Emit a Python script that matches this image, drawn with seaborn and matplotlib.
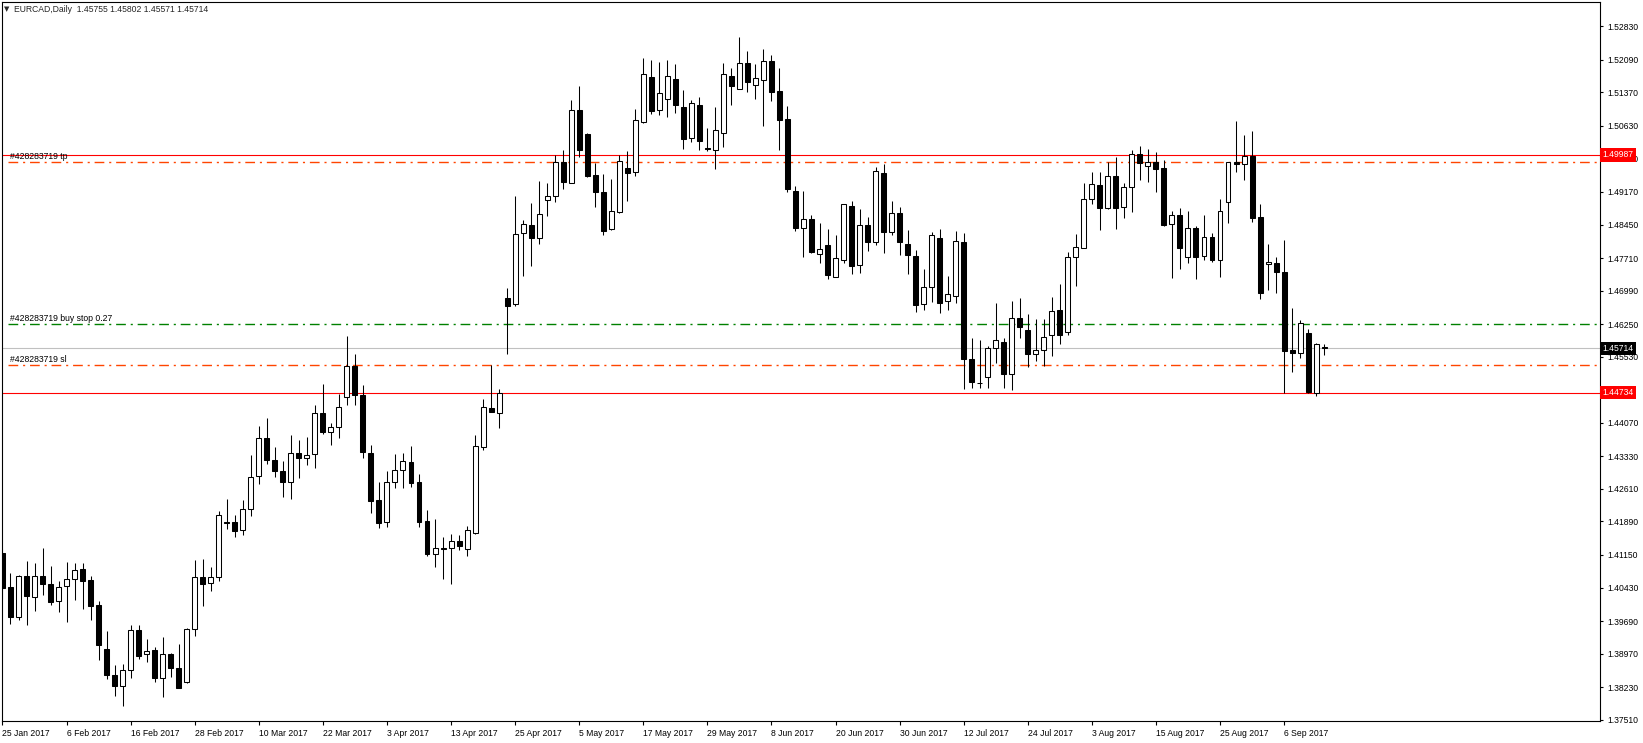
import numpy as np
import pandas as pd
import matplotlib
matplotlib.use("Agg")
import matplotlib.pyplot as plt
import matplotlib.transforms as mtransforms
import seaborn as sns

# EURCAD daily candles, 25 Jan 2017 -> 13 Sep 2017
opens = [1.41202, 1.40436, 1.39788, 1.40679, 1.40230, 1.40679, 1.40502, 1.40141, 1.40458, 1.40613,
         1.40833, 1.40591, 1.40038, 1.39066, 1.38492, 1.38264, 1.38603, 1.39486, 1.38956, 1.39044,
         1.38426, 1.38956, 1.38647, 1.38352, 1.39508, 1.40656, 1.40524, 1.40656, 1.41886, 1.41871,
         1.41694, 1.42158, 1.42887, 1.43726, 1.43241, 1.42998, 1.42769, 1.43395, 1.43285, 1.43373,
         1.44279, 1.43874, 1.43969, 1.44632, 1.45324, 1.44684, 1.43395, 1.42365, 1.41886, 1.42755,
         1.43020, 1.43197, 1.42755, 1.41901, 1.41164, 1.41297, 1.41297, 1.41451, 1.41275, 1.41643,
         1.43543, 1.44389, 1.44279, 1.46818, 1.46686, 1.48254, 1.48438, 1.48144, 1.48983, 1.49072,
         1.49823, 1.49374, 1.50971, 1.50448, 1.49543, 1.49160, 1.48343, 1.48733, 1.49697, 1.49602,
         1.50707, 1.51701, 1.50972, 1.51215, 1.51656, 1.51038, 1.50353, 1.51082, 1.50147, 1.50103,
         1.50464, 1.51723, 1.51435, 1.52010, 1.51524, 1.51649, 1.52054, 1.51391, 1.50773, 1.49182,
         1.48365, 1.48564, 1.47791, 1.47989, 1.47283, 1.47658, 1.48851, 1.47548, 1.48431, 1.48056,
         1.49580, 1.48276, 1.48696, 1.48012, 1.47746, 1.46686, 1.47062, 1.48144, 1.46752, 1.46863,
         1.48056, 1.45471, 1.44960, 1.45074, 1.45714, 1.45847, 1.45140, 1.46377, 1.46112, 1.45582,
         1.45670, 1.46001, 1.46554, 1.46068, 1.47724, 1.47938, 1.49005, 1.49315, 1.48807, 1.49514,
         1.48829, 1.49271, 1.50000, 1.49735, 1.49823, 1.49691, 1.48454, 1.48652, 1.47725, 1.48365,
         1.47747, 1.48166, 1.47673, 1.48940, 1.49823, 1.49779, 1.49956, 1.48608, 1.47570, 1.47592,
         1.47393, 1.45671, 1.45604, 1.46046, 1.44720, 1.45755]
highs = [1.41275, 1.40753, 1.40700, 1.41018, 1.40973, 1.41297, 1.40907, 1.40576, 1.40995, 1.40973,
         1.40973, 1.40679, 1.40134, 1.39471, 1.38720, 1.38742, 1.39597, 1.39597, 1.39287, 1.39111,
         1.39339, 1.38978, 1.39184, 1.39530, 1.41039, 1.41061, 1.40877, 1.42121, 1.42386, 1.42033,
         1.42364, 1.43358, 1.43999, 1.44176, 1.43528, 1.43226, 1.43800, 1.43690, 1.43756, 1.44463,
         1.44927, 1.44065, 1.44706, 1.45987, 1.45582, 1.44905, 1.43579, 1.42762, 1.43005, 1.43381,
         1.43403, 1.43557, 1.42939, 1.42144, 1.41945, 1.41547, 1.41613, 1.41591, 1.41790, 1.43800,
         1.44588, 1.45355, 1.44816, 1.47047, 1.49079, 1.48549, 1.48917, 1.49410, 1.49359, 1.49985,
         1.50095, 1.51199, 1.51509, 1.50478, 1.49800, 1.49558, 1.49454, 1.49985, 1.50073, 1.51001,
         1.52120, 1.52083, 1.52032, 1.52076, 1.51988, 1.51421, 1.51193, 1.51259, 1.50574, 1.51038,
         1.52017, 1.51899, 1.52591, 1.52275, 1.51995, 1.52319, 1.52194, 1.51899, 1.51067, 1.49300,
         1.49189, 1.48659, 1.48483, 1.48350, 1.48218, 1.48895, 1.48969, 1.48792, 1.48615, 1.49712,
         1.49786, 1.48969, 1.48836, 1.48328, 1.47886, 1.47467, 1.48284, 1.48350, 1.47319, 1.48306,
         1.48262, 1.45942, 1.45891, 1.45766, 1.46716, 1.45935, 1.46752, 1.46819, 1.46473, 1.46362,
         1.46362, 1.46841, 1.47128, 1.47835, 1.48232, 1.49366, 1.49602, 1.49609, 1.49823, 1.49933,
         1.49359, 1.50095, 1.50184, 1.50118, 1.50044, 1.49867, 1.48741, 1.48807, 1.48748, 1.48417,
         1.48652, 1.48262, 1.49013, 1.49823, 1.50736, 1.50427, 1.50515, 1.48895, 1.48019, 1.47732,
         1.48100, 1.46598, 1.46340, 1.46134, 1.45833, 1.45802]
lows = [1.40171, 1.39633, 1.39722, 1.39611, 1.39921, 1.40274, 1.40053, 1.39898, 1.39678, 1.40163,
        1.39965, 1.39722, 1.38838, 1.38418, 1.38043, 1.37822, 1.38441, 1.38860, 1.38794, 1.38352,
        1.38021, 1.38448, 1.38220, 1.38315, 1.39368, 1.40030, 1.40362, 1.40583, 1.41716, 1.41554,
        1.41584, 1.42018, 1.42725, 1.43167, 1.42880, 1.42438, 1.42394, 1.42858, 1.43145, 1.43079,
        1.43815, 1.43572, 1.43741, 1.44463, 1.44463, 1.43300, 1.42085, 1.41753, 1.41775, 1.42637,
        1.42637, 1.42652, 1.41775, 1.41127, 1.40892, 1.40627, 1.40516, 1.41260, 1.41135, 1.41621,
        1.43476, 1.44300, 1.43962, 1.45581, 1.46656, 1.47319, 1.47540, 1.48011, 1.48645, 1.48954,
        1.49234, 1.49359, 1.49940, 1.49491, 1.48843, 1.48217, 1.48328, 1.48696, 1.48976, 1.49528,
        1.50690, 1.50891, 1.50876, 1.50832, 1.50920, 1.50125, 1.50272, 1.50095, 1.50081, 1.49683,
        1.50169, 1.51097, 1.51435, 1.51384, 1.51222, 1.50633, 1.51178, 1.50095, 1.49168, 1.48300,
        1.47739, 1.47827, 1.47606, 1.47253, 1.47283, 1.47606, 1.47363, 1.47385, 1.47871, 1.48004,
        1.47827, 1.48225, 1.47783, 1.47363, 1.46524, 1.46568, 1.46745, 1.46502, 1.46568, 1.46723,
        1.44808, 1.44831, 1.44831, 1.44831, 1.45383, 1.44831, 1.44787, 1.45950, 1.45309, 1.45442,
        1.45317, 1.45552, 1.45803, 1.46001, 1.47084, 1.47923, 1.48895, 1.48321, 1.48785, 1.48358,
        1.48601, 1.48718, 1.49425, 1.49396, 1.49175, 1.48417, 1.47276, 1.47474, 1.47607, 1.47253,
        1.47673, 1.47629, 1.47298, 1.48490, 1.49617, 1.49440, 1.48513, 1.46812, 1.47010, 1.46944,
        1.44720, 1.45199, 1.45508, 1.44720, 1.44654, 1.45571]
closes = [1.40429, 1.39788, 1.40679, 1.40252, 1.40679, 1.40502, 1.40119, 1.40436, 1.40613, 1.40811,
          1.40583, 1.40031, 1.39169, 1.38507, 1.38264, 1.38603, 1.39486, 1.38926, 1.39022, 1.38441,
          1.38956, 1.38647, 1.38220, 1.39508, 1.40656, 1.40516, 1.40656, 1.42026, 1.41864, 1.41687,
          1.42158, 1.42865, 1.43726, 1.43241, 1.42998, 1.42769, 1.43395, 1.43299, 1.43366, 1.44279,
          1.43874, 1.43969, 1.44411, 1.45324, 1.44676, 1.43432, 1.42350, 1.41864, 1.42755, 1.43027,
          1.43219, 1.42747, 1.41886, 1.41179, 1.41297, 1.41290, 1.41451, 1.41356, 1.41694, 1.43550,
          1.44411, 1.44316, 1.44721, 1.46656, 1.48232, 1.48453, 1.48159, 1.48674, 1.49072, 1.49823,
          1.49396, 1.50971, 1.50088, 1.49528, 1.49175, 1.48313, 1.48748, 1.49852, 1.49594, 1.50750,
          1.51767, 1.50964, 1.51347, 1.51723, 1.51097, 1.50346, 1.51126, 1.50302, 1.50110, 1.50530,
          1.51767, 1.51517, 1.52010, 1.51605, 1.51678, 1.52054, 1.51384, 1.50751, 1.49241, 1.48380,
          1.48564, 1.47849, 1.47901, 1.47341, 1.47702, 1.48895, 1.47540, 1.48431, 1.48056, 1.49624,
          1.48291, 1.48696, 1.48056, 1.47783, 1.46679, 1.47062, 1.48210, 1.46723, 1.46922, 1.48078,
          1.45486, 1.44978, 1.44941, 1.45714, 1.45891, 1.45140, 1.46377, 1.46178, 1.45582, 1.45670,
          1.45972, 1.46532, 1.46001, 1.47724, 1.47945, 1.49005, 1.49337, 1.48807, 1.49514, 1.48822,
          1.49271, 1.50000, 1.49801, 1.49823, 1.49683, 1.48439, 1.48652, 1.47938, 1.48365, 1.47725,
          1.48166, 1.47673, 1.48741, 1.49823, 1.49779, 1.49956, 1.48601, 1.46944, 1.47614, 1.47393,
          1.45663, 1.45619, 1.46267, 1.44743, 1.45803, 1.45714]

date_labels = ["25 Jan 2017", "6 Feb 2017", "16 Feb 2017", "28 Feb 2017", "10 Mar 2017",
               "22 Mar 2017", "3 Apr 2017", "13 Apr 2017", "25 Apr 2017", "5 May 2017",
               "17 May 2017", "29 May 2017", "8 Jun 2017", "20 Jun 2017", "30 Jun 2017",
               "12 Jul 2017", "24 Jul 2017", "3 Aug 2017", "15 Aug 2017", "25 Aug 2017",
               "6 Sep 2017"]
# 1.44810 sits under the red 1.44734 box in the original, so it is left out
price_ticks = [1.52830, 1.52090, 1.51370, 1.50630, 1.49910, 1.49170, 1.48450, 1.47710,
               1.46990, 1.46250, 1.45530, 1.44070, 1.43330, 1.42610, 1.41890,
               1.41150, 1.40430, 1.39690, 1.38970, 1.38230, 1.37510]

# levels drawn on the chart
level_high = 1.49987
level_low = 1.44734
tp_level = 1.49823
buy_stop_level = 1.46245
sl_level = 1.45339
bid = 1.45714
order_id = "#428283719"

df = pd.DataFrame({"open": opens, "high": highs, "low": lows, "close": closes})
df["x"] = np.arange(len(df))
df["bull"] = df["close"] >= df["open"]

sns.set_theme(style="white", rc={"axes.edgecolor": "black", "axes.linewidth": 0.8})
plt.rcParams["font.family"] = ["Liberation Sans", "DejaVu Sans"]

fig = plt.figure(figsize=(16.43, 7.43), dpi=100)
ax = fig.add_axes([2 / 1643, 22 / 743, 1598 / 1643, 719 / 743])

# wicks then bodies
ax.vlines(df["x"], df["low"], df["high"], color="black", linewidth=0.75, zorder=2)
body_lo = df[["open", "close"]].min(axis=1)
body_h = (df["close"] - df["open"]).abs()
ax.bar(df["x"], body_h, bottom=body_lo, width=0.62,
       color=np.where(df["bull"], "white", "black"), edgecolor="black",
       linewidth=0.75, zorder=3)

xmin, xmax = -0.06, 199.44
ax.set_xlim(xmin, xmax)
ax.set_ylim(1.37483, 1.53365)

dash_dot = (0, (7, 3.5, 1.5, 3.5))
ax.axhline(level_high, color="red", linewidth=0.8, zorder=1)
ax.axhline(level_low, color="red", linewidth=0.8, zorder=1)
ax.axhline(bid, color="#c0c0c0", linewidth=0.8, zorder=1)
ax.hlines(tp_level, 0.74, xmax, color="#ff4500", linewidth=1.0, linestyle=dash_dot, zorder=1)
ax.hlines(sl_level, 0.74, xmax, color="#ff4500", linewidth=1.0, linestyle=dash_dot, zorder=1)
ax.hlines(buy_stop_level, 0.74, xmax, color="#008000", linewidth=1.0, linestyle=dash_dot, zorder=1)

trans = mtransforms.blended_transform_factory(ax.transAxes, ax.transData)
for txt, lvl in [(f"{order_id} tp", tp_level),
                 (f"{order_id} buy stop 0.27", buy_stop_level),
                 (f"{order_id} sl", sl_level)]:
    ax.text(0.005, lvl + 0.0004, txt, transform=trans, fontsize=6.2,
            ha="left", va="bottom", color="black")

# axes ticks
ax.yaxis.tick_right()
ax.set_yticks(price_ticks)
ax.set_yticklabels([f"{v:.5f}" for v in price_ticks])
ax.set_xticks(np.arange(0, 8 * len(date_labels), 8))
ax.set_xticklabels(date_labels, ha="left")
ax.tick_params(axis="y", direction="out", length=2.5, width=0.8, pad=2.5,
               labelsize=6.2, colors="black", right=True, left=False)
ax.tick_params(axis="x", direction="out", length=3, width=0.8, pad=2.5,
               labelsize=6.2, colors="black", bottom=True)
ax.grid(False)

# price boxes on the right scale
for lvl, fc in [(level_high, "red"), (bid, "black"), (level_low, "red")]:
    ax.text(1.0015, lvl, f"{lvl:.5f}", transform=trans, fontsize=6.2,
            color="white", ha="left", va="center", clip_on=False, zorder=10,
            bbox=dict(boxstyle="square,pad=0.25", fc=fc, ec="none"))

fig.text(4 / 1643, 1 - 9 / 743, "\u25bc", fontsize=5, ha="left", va="center",
         family="DejaVu Sans")
fig.text(14 / 1643, 1 - 9 / 743, "EURCAD,Daily  1.45755 1.45802 1.45571 1.45714",
         fontsize=6.2, ha="left", va="center")

fig.savefig("out.png", dpi=100, facecolor="white")
